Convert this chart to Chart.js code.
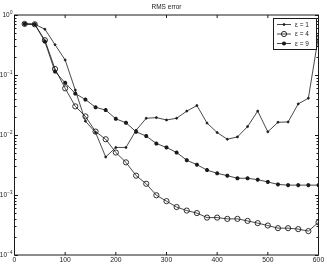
<!DOCTYPE html>
<html>
<head>
<meta charset="utf-8">
<script src="https://cdn.jsdelivr.net/npm/chart.js@4.4.1/dist/chart.umd.min.js"></script>
<style>
  html, body { margin: 0; padding: 0; background: #fff; }
  canvas { display: block; }
</style>
</head>
<body>
<canvas id="rmsChart" width="327" height="264"></canvas>
<script>
// RMS error against iteration count, three epsilon settings, log y axis

const iterations = [20, 40, 60, 80, 100, 120, 140, 160, 180, 200,
                    220, 240, 260, 280, 300, 320, 340, 360, 380, 400,
                    420, 440, 460, 480, 500, 520, 540, 560, 580, 600];

const rmsEps1 = [0.71, 0.70, 0.58, 0.32, 0.178, 0.056, 0.017, 0.011, 0.0043, 0.0062,
                 0.0062, 0.012, 0.019, 0.0195, 0.0178, 0.019, 0.025, 0.031, 0.0158, 0.011,
                 0.0085, 0.0093, 0.0138, 0.025, 0.0113, 0.0163, 0.0165, 0.033, 0.041, 0.45];

const rmsEps4 = [0.71, 0.70, 0.38, 0.126, 0.060, 0.030, 0.0204, 0.0114, 0.0085, 0.0051,
                 0.0035, 0.0021, 0.00154, 0.00099, 0.00079, 0.00063, 0.00055, 0.00050, 0.00042, 0.00042,
                 0.00040, 0.00040, 0.00037, 0.00034, 0.00031, 0.00028, 0.00028, 0.00027, 0.00025, 0.00035];

const rmsEps9 = [0.71, 0.70, 0.36, 0.114, 0.074, 0.049, 0.039, 0.029, 0.026, 0.0186,
                 0.016, 0.0113, 0.0096, 0.0072, 0.0062, 0.0051, 0.0038, 0.0032, 0.0026, 0.0023,
                 0.0021, 0.0019, 0.0019, 0.0018, 0.00165, 0.0015, 0.00146, 0.00146, 0.00146, 0.00146];

const seriesLabels = ["ε = 1", "ε = 4", "ε = 9"];
const xTicks = [0, 100, 200, 300, 400, 500, 600];
const yExponents = [0, -1, -2, -3, -4];
const minorSteps = [2, 3, 4, 5, 6, 7, 8, 9];
const chartTitle = "RMS error";

const INK = "#1a1a1a";
const FONT = "'Liberation Sans', Arial, sans-serif";

// MATLAB-ish frame: box, inward ticks on all sides, y labels, title, legend
const matlabFrame = {
  id: "matlabFrame",
  afterDraw(chart) {
    const { ctx, chartArea: a, scales: { x, y } } = chart;
    ctx.save();
    ctx.strokeStyle = INK;
    ctx.lineWidth = 1;
    ctx.strokeRect(a.left, a.top, a.right - a.left, a.bottom - a.top);

    ctx.beginPath();
    xTicks.forEach(v => {
      const px = x.getPixelForValue(v);
      ctx.moveTo(px, a.bottom); ctx.lineTo(px, a.bottom - 3);
      ctx.moveTo(px, a.top); ctx.lineTo(px, a.top + 3);
    });
    yExponents.forEach(e => {
      const major = Math.round(y.getPixelForValue(Math.pow(10, e))) + 0.5;
      ctx.moveTo(a.left, major); ctx.lineTo(a.left + 3.5, major);
      ctx.moveTo(a.right, major); ctx.lineTo(a.right - 3.5, major);
      if (e === 0) return;
      minorSteps.forEach(m => {
        const py = Math.round(y.getPixelForValue(m * Math.pow(10, e))) + 0.5;
        ctx.moveTo(a.left, py); ctx.lineTo(a.left + 2, py);
        ctx.moveTo(a.right, py); ctx.lineTo(a.right - 2, py);
      });
    });
    ctx.stroke();

    // y labels as 10 with a raised exponent
    ctx.fillStyle = INK;
    ctx.textBaseline = "middle";
    yExponents.forEach(e => {
      const py = y.getPixelForValue(Math.pow(10, e));
      const expText = e === 0 ? "0" : "\u2212" + Math.abs(e);
      ctx.font = "4.5px " + FONT;
      const ew = ctx.measureText(expText).width;
      const right = a.left - 2;
      ctx.textAlign = "left";
      ctx.fillText(expText, right - ew, py - 2.5);
      ctx.font = "6.5px " + FONT;
      ctx.textAlign = "right";
      ctx.fillText("10", right - ew - 0.3, py + 0.5);
    });

    // title
    ctx.font = "6.5px " + FONT;
    ctx.textAlign = "center";
    ctx.fillText(chartTitle, (a.left + a.right) / 2, 7.5);

    // legend box
    const lx = 273, ly = 18, lw = 43, lh = 31;
    ctx.fillStyle = "#fff";
    ctx.fillRect(lx, ly, lw, lh);
    ctx.strokeStyle = INK;
    ctx.strokeRect(lx + 0.5, ly + 0.5, lw, lh);
    chart.data.datasets.forEach((ds, i) => {
      const ry = ly + 6.5 + i * 9.5;
      ctx.beginPath();
      ctx.lineWidth = 0.8;
      ctx.strokeStyle = INK;
      ctx.moveTo(277, ry); ctx.lineTo(291, ry);
      ctx.stroke();
      ctx.fillStyle = ds.pointBackgroundColor;
      ctx.lineWidth = ds.pointBorderWidth;
      Chart.helpers.drawPoint(ctx, {
        pointStyle: ds.pointStyle,
        radius: ds.pointRadius,
        borderWidth: ds.pointBorderWidth
      }, 284, ry);
      ctx.fillStyle = INK;
      ctx.font = "6.5px " + FONT;
      ctx.textAlign = "left";
      ctx.fillText(ds.label, 295, ry + 0.5);
    });
    ctx.restore();
  }
};

function makeSeries(label, values, style, radius, fill, bw) {
  return {
    label: label,
    data: iterations.map((it, i) => ({ x: it, y: values[i] })),
    borderColor: INK,
    borderWidth: 0.8,
    pointStyle: style,
    pointRadius: radius,
    pointBorderWidth: bw,
    pointBorderColor: INK,
    pointBackgroundColor: fill,
    tension: 0,
    fill: false
  };
}

new Chart(document.getElementById("rmsChart"), {
  type: "line",
  data: {
    datasets: [
      makeSeries(seriesLabels[0], rmsEps1, "circle", 1, INK, 0.8),
      makeSeries(seriesLabels[1], rmsEps4, "circle", 2.6, "rgba(0,0,0,0)", 0.9),
      makeSeries(seriesLabels[2], rmsEps9, "star", 2, INK, 1.3)
    ]
  },
  options: {
    responsive: false,
    animation: false,
    layout: { padding: { top: 15, right: 8.5, left: 0, bottom: 0 } },
    plugins: {
      legend: { display: false },
      title: { display: false },
      tooltip: { enabled: false }
    },
    scales: {
      x: {
        type: "linear",
        min: 0,
        max: 600,
        afterFit: s => { s.height = 9; },
        afterBuildTicks: s => { s.ticks = xTicks.map(v => ({ value: v })); },
        grid: { display: false, drawTicks: false },
        border: { display: false },
        ticks: { padding: 1, color: INK, font: { family: FONT, size: 6.8 } }
      },
      y: {
        type: "logarithmic",
        min: 1e-4,
        max: 1,
        afterFit: s => { s.width = 14.5; },
        grid: { display: false, drawTicks: false },
        border: { display: false },
        ticks: { display: false, autoSkip: false }
      }
    }
  },
  plugins: [matlabFrame]
});
</script>
</body>
</html>
